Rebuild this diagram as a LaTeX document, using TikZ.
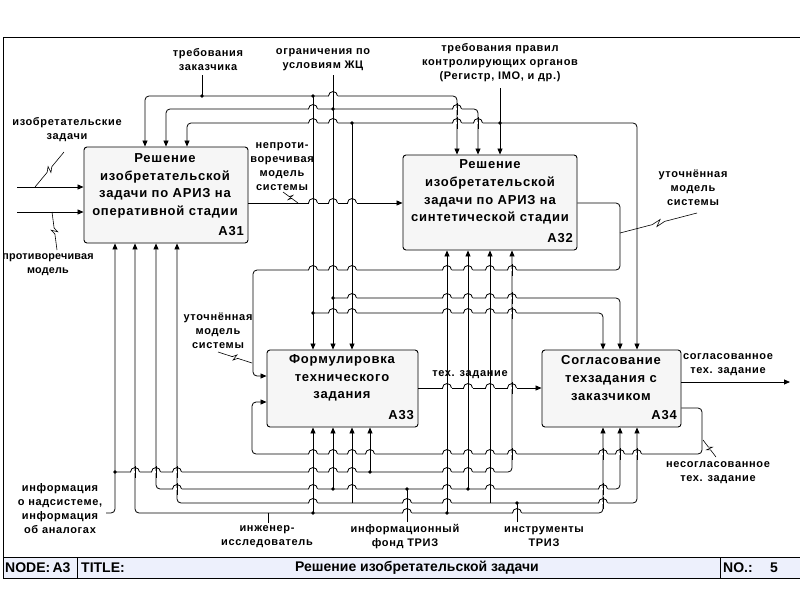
\documentclass[tikz,border=0pt]{standalone}
\usepackage{fontspec}
\setmainfont{Liberation Sans}
\newfontfamily\lblf[LetterSpace=6]{Liberation Sans}
\newfontfamily\lblg[LetterSpace=2]{Liberation Sans}
\usetikzlibrary{arrows.meta,calc}
\definecolor{boxfill}{rgb}{0.965,0.965,0.965}
\definecolor{titlefill}{rgb}{0.93,0.94,0.99}
\newcommand\hop[2]{%
  \fill[white] (#1-4.5,#2-1.3) rectangle (#1+4.5,#2+1.3);
  \draw[line width=0.8pt] (#1,#2-6) -- (#1,#2+6);
  \draw[line width=0.8pt] (#1-4.5,#2) arc[start angle=180,end angle=0,radius=4.5pt];}
\newcommand\squig[2]{%
  \draw[line width=0.6pt] (#1) -- ($(#1)!0.42!(#2)$) -- ($(#1)!0.53!(#2)!3pt!90:(#2)$)
    -- ($(#1)!0.47!(#2)!3pt!-90:(#2)$) -- ($(#1)!0.58!(#2)$) -- (#2);}
\begin{document}
\begin{tikzpicture}[x=1pt,y=-1pt,
  wire/.style={line width=0.8pt,rounded corners=4pt},
  arr/.style={wire,-{Triangle[length=6pt,width=5pt]}},
  proc/.style={draw,line width=0.9pt,fill=boxfill,rounded corners=3pt,inner sep=0pt},
  lbl/.style={font=\lblf\bfseries\fontsize{11}{14}\selectfont,align=center,inner sep=0pt},
  btxt/.style={font=\lblf\bfseries\fontsize{13}{17.7}\selectfont,align=center,inner sep=0pt},
  bid/.style={font=\lblf\bfseries\fontsize{13}{15}\selectfont,inner sep=0pt},
  ttxt/.style={font=\bfseries\fontsize{14}{16}\selectfont,inner sep=0pt},
  jdot/.style={circle,fill,inner sep=0pt,minimum size=3.6pt}]
\useasboundingbox (0,0) rectangle (800,600);
\fill[white] (0,0) rectangle (800,600);
% frame and title bar
\fill[titlefill] (3,557) rectangle (800,578);
\draw[line width=1pt] (3,578) -- (3,37) -- (800,37);
\draw[line width=1pt] (3,557) -- (800,557);
\draw[line width=1pt] (3,578) -- (800,578);
\draw[line width=1pt] (77,557) -- (77,578);
\draw[line width=1pt] (720,557) -- (720,578);
\node[ttxt,anchor=west] (tnode) at (5,567.5) {NODE:\,A3};
\node[ttxt,anchor=west] (ttl) at (81,567.5) {TITLE:};
\node[ttxt] (tname) at (417,567.5) {Решение изобретательской задачи};
\node[ttxt,anchor=west] (tno) at (723,567.5) {NO.:};
\node[ttxt] (tnum) at (774,567.5) {5};
% boxes
\node[proc,minimum width=164pt,minimum height=96pt] (A31) at (166,195) {};
\node[proc,minimum width=174pt,minimum height=95pt] (A32) at (490,202.5) {};
\node[proc,minimum width=151pt,minimum height=77pt] (A33) at (342.5,388.5) {};
\node[proc,minimum width=139pt,minimum height=77pt] (A34) at (611.5,388.5) {};
\node[btxt] (t31) at (165,186) {Решение\\изобретательской\\задачи по АРИЗ на\\оперативной стадии};
\node[btxt] (t32) at (490,192) {Решение\\изобретательской\\задачи по АРИЗ на\\синтетической стадии};
\node[btxt] (t33) at (342,378) {Формулировка\\технического\\задания};
\node[btxt] (t34) at (611,378) {Согласование\\техзадания с\\заказчиком};
\node[bid,anchor=south east] (n31) at (244,236) {A31};
\node[bid,anchor=south east] (n32) at (573,243) {A32};
\node[bid,anchor=south east] (n33) at (414,420) {A33};
\node[bid,anchor=south east] (n34) at (677,420) {A34};
% source points
\coordinate (cust) at (202,75);
\coordinate (lcz) at (333,75);
\coordinate (reg) at (500,88);
\coordinate (info) at (106,513);
\coordinate (eng) at (268,523);
\coordinate (fund) at (407,522);
\coordinate (tool) at (517,522);
% controls: customer
\draw[wire] (cust) -- (202,96);
\draw[arr] (202,96) -| (145,0 |- A31.north);
\draw[arr] (202,96) -| (457,0 |- A32.north);
\draw[arr] (313,96) -- (313,0 |- A33.north);
\draw[arr] (313,313) -| (603,0 |- A34.north);
% controls: life cycle
\draw[arr] (lcz) -- (333,0 |- A33.north);
\draw[arr] (333,109) -| (166,0 |- A31.north);
\draw[arr] (333,109) -| (478,0 |- A32.north);
\draw[arr] (333,298) -| (620,0 |- A34.north);
% controls: register
\draw[arr] (reg) -- (500,0 |- A32.north);
\draw[arr] (500,123) -| (187,0 |- A31.north);
\draw[arr] (500,123) -| (637,0 |- A34.north);
\draw[arr] (352,123) -- (352,0 |- A33.north);
% inputs / outputs
\draw[arr] (17,187) -- (A31.west |- 0,187);
\draw[arr] (17,212) -- (A31.west |- 0,212);
\draw[arr] (A31.east |- 0,203) -- (A32.west |- 0,203);
\draw[arr] (A32.east |- 0,203) -- (620,203) -- (620,270) -- (253,270) -- (253,376) -- (A33.west |- 0,376);
\draw[arr] (A33.east |- 0,388) -- (A34.west |- 0,388);
\draw[arr] (A34.east |- 0,382) -- (790,382);
\draw[arr] (A34.east |- 0,408) -- (702,408) -- (702,454) -- (252,454) -- (252,402) -- (A33.west |- 0,402);
% mechanisms: information
\draw[arr] (info) -- (115,513) -- (115,0 |- A31.south);
\draw[arr] (115,472) -| (512,0 |- A32.south);
\draw[arr] (370,472) -- (370,0 |- A33.south);
% engineer
\draw[wire] (eng) -- (268,513);
\draw[arr] (268,513) -| (135,0 |- A31.south);
\draw[arr] (268,513) -| (603,0 |- A34.south);
\draw[arr] (313,513) -- (313,0 |- A33.south);
\draw[arr] (447,513) -- (447,0 |- A32.south);
% fund
\draw[wire] (fund) -- (407,489);
\draw[arr] (407,489) -| (156,0 |- A31.south);
\draw[arr] (407,489) -| (620,0 |- A34.south);
\draw[arr] (333,489) -- (333,0 |- A33.south);
\draw[arr] (468,489) -- (468,0 |- A32.south);
% tools
\draw[wire] (tool) -- (517,503);
\draw[arr] (517,503) -| (177,0 |- A31.south);
\draw[arr] (517,503) -| (637,0 |- A34.south);
\draw[arr] (352,503) -- (352,0 |- A33.south);
\draw[arr] (490,503) -- (490,0 |- A32.south);
% hops
\foreach \yy/\xs in {96/{333},109/{313,457},123/{313,333,457,478},203/{313,333,352},
  270/{313,333,352,447,468,490,512},298/{352,447,468,490,512},313/{333,352,447,468,490,512},
  388/{447,468,490,512},454/{313,333,352,370,447,468,490,512,603,620,637},
  472/{135,156,177,313,333,352,447,468,490},489/{177,313,352,447,490,603},
  503/{313,407,447,603},513/{407,517}}{
  \foreach \xx in \xs {\hop{\xx}{\yy}}}
% junction dots
\foreach \p in {{202,96},{313,96},{333,109},{352,123},{500,123},{313,313},{333,298},
  {115,472},{370,472},{313,513},{447,513},{333,489},{407,489},{468,489},{517,503}}
  {\node[jdot] at (\p) {};}
% squiggles
\squig{35,187}{64,152}
\squig{52,212}{57,250}
\squig{298,203}{283,192}
\squig{620,233}{697,213}
\squig{252,363}{218,352}
\squig{703,440}{716,457}
% labels
\node[lbl] (l1) at (67,130) {изобретательские\\задачи};
\node[lbl,font=\lblg\bfseries\fontsize{10.8}{14}\selectfont] (l2) at (48,265) {противоречивая\\модель};
\node[lbl] (l3) at (208,60) {требования\\заказчика};
\node[lbl] (l4) at (323,60) {ограничения по\\условиям ЖЦ};
\node[lbl] (l5) at (500,63) {требования правил\\контролирующих органов\\(Регистр, IMO, и др.)};
\node[lbl] (l6) at (282,167) {непроти-\\воречивая\\модель\\системы};
\node[lbl] (l7) at (693,188) {уточнённая\\модель\\системы};
\node[lbl] (l8) at (218,331) {уточнённая\\модель\\системы};
\node[lbl] (l9) at (470,375) {тех. задание};
\node[lbl] (l10) at (728,365) {согласованное\\тех. задание};
\node[lbl] (l11) at (718,473) {несогласованное\\тех. задание};
\node[lbl] (l12) at (60,509) {информация\\о надсистеме,\\информация\\об аналогах};
\node[lbl] (l13) at (267,537) {инженер-\\исследователь};
\node[lbl] (l14) at (405,537) {информационный\\фонд ТРИЗ};
\node[lbl] (l15) at (544,537) {инструменты\\ТРИЗ};
\end{tikzpicture}
\end{document}
